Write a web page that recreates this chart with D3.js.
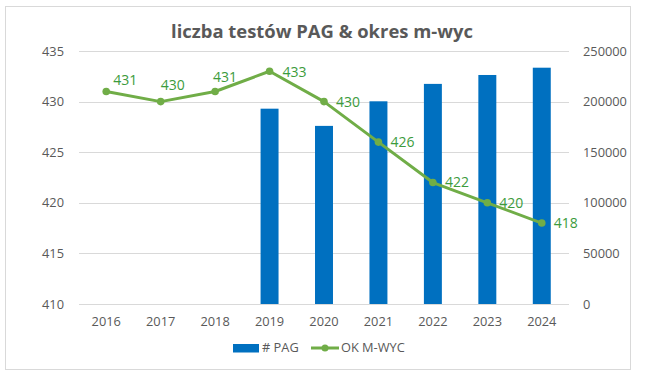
<!DOCTYPE html>
<html>
<head>
<meta charset="utf-8">
<script src="https://cdn.jsdelivr.net/npm/d3@7"></script>
<style>
  html, body { margin: 0; padding: 0; background: #fff; }
  svg { display: block; }
  text { font-family: "Open Sans", "DejaVu Sans", sans-serif; }
</style>
</head>
<body>
<svg id="chart" width="649" height="384"></svg>
<script>
// ---- data ----
const years = ["2016", "2017", "2018", "2019", "2020", "2021", "2022", "2023", "2024"];
const pagYears = ["2019", "2020", "2021", "2022", "2023", "2024"];
const pagValues = [193000, 176000, 200300, 217500, 226300, 233500];
const okValues = [431, 430, 431, 433, 430, 426, 422, 420, 418];
const leftTicks = [410, 415, 420, 425, 430, 435];
const rightTicks = [0, 50000, 100000, 150000, 200000, 250000];
const title = "liczba testów PAG & okres m-wyc";
const seriesNames = ["# PAG", "OK M-WYC"];

// ---- layout / style ----
const W = 649, H = 384;
const plot = { left: 79, right: 569, top: 51, bottom: 304 };
const textGray = "#595959";
const gridColor = "#d9d9d9";
const barColor = "#0070C0";
const lineColor = "#70AD47";
const labelColor = "#3C9B3C";
const axisFont = "12.8px";
const labelFont = "14px";
// label offsets relative to each point (dx to label start, dy to label center)
const labelOffsets = [[7, -11], [0, -17], [-2, -14], [13, 1], [12, 0], [12, 0], [12, 0], [12, 0], [12, 0]];

const svg = d3.select("#chart");

// chart border
svg.append("rect")
  .attr("x", 5.5).attr("y", 6.5).attr("width", 625).attr("height", 363)
  .attr("fill", "#fff").attr("stroke", gridColor).attr("stroke-width", 1);

const x = d3.scaleBand().domain(years).range([plot.left, plot.right]).paddingInner(0).paddingOuter(0);
const yL = d3.scaleLinear().domain([410, 435]).range([plot.bottom, plot.top]);
const yR = d3.scaleLinear().domain([0, 250000]).range([plot.bottom, plot.top]);

// gridlines
svg.append("g").selectAll("line").data(leftTicks).join("line")
  .attr("x1", plot.left).attr("x2", plot.right)
  .attr("y1", d => Math.round(yL(d)) + 0.5).attr("y2", d => Math.round(yL(d)) + 0.5)
  .attr("stroke", gridColor).attr("stroke-width", 1);

// left axis
const leftAxis = svg.append("g").attr("transform", `translate(${plot.left - 15},0)`)
  .call(d3.axisLeft(yL).tickValues(leftTicks).tickSize(0).tickPadding(0));
leftAxis.select(".domain").remove();
leftAxis.selectAll("text").attr("fill", textGray).style("font-size", axisFont).style("font-family", "'Open Sans', sans-serif");

// right axis
const rightAxis = svg.append("g").attr("transform", `translate(${plot.right + 14},0)`)
  .call(d3.axisRight(yR).tickValues(rightTicks).tickSize(0).tickPadding(0).tickFormat(d3.format("d")));
rightAxis.select(".domain").remove();
rightAxis.selectAll("text").attr("fill", textGray).style("font-size", axisFont).style("font-family", "'Open Sans', sans-serif");

// x axis
const xAxis = svg.append("g").attr("transform", `translate(0,${plot.bottom + 13})`)
  .call(d3.axisBottom(x).tickSize(0).tickPadding(0));
xAxis.select(".domain").remove();
xAxis.selectAll("text").attr("fill", textGray).style("font-size", axisFont).style("font-family", "'Open Sans', sans-serif");

// bars
const barW = x.bandwidth() * 0.33;
svg.append("g").selectAll("rect").data(pagYears.map((y, i) => ({ year: y, v: pagValues[i] }))).join("rect")
  .attr("x", d => x(d.year) + x.bandwidth() / 2 - barW / 2)
  .attr("width", barW)
  .attr("y", d => yR(d.v))
  .attr("height", d => yR(0) - yR(d.v))
  .attr("fill", barColor);

// line
const pts = years.map((y, i) => ({ year: y, v: okValues[i], i }));
const line = d3.line().x(d => x(d.year) + x.bandwidth() / 2).y(d => yL(d.v));
svg.append("path").datum(pts).attr("d", line)
  .attr("fill", "none").attr("stroke", lineColor).attr("stroke-width", 3).attr("stroke-linejoin", "round").attr("stroke-linecap", "round");
svg.append("g").selectAll("circle").data(pts).join("circle")
  .attr("cx", d => x(d.year) + x.bandwidth() / 2).attr("cy", d => yL(d.v)).attr("r", 3.8)
  .attr("fill", lineColor);

// data labels
svg.append("g").selectAll("text").data(pts).join("text")
  .attr("x", d => x(d.year) + x.bandwidth() / 2 + labelOffsets[d.i][0])
  .attr("y", d => yL(d.v) + labelOffsets[d.i][1])
  .attr("dy", "0.35em")
  .attr("fill", labelColor).style("font-size", labelFont)
  .text(d => d.v);

// title
const t = svg.append("text").attr("x", 322).attr("y", 38).attr("text-anchor", "middle")
  .attr("fill", textGray).style("font-size", "18px").style("font-weight", "bold").text(title);
const tw = t.node().getComputedTextLength();
t.style("font-size", (18 * 302 / tw).toFixed(2) + "px");

// legend
const lg = svg.append("g");
lg.append("rect").attr("x", 233).attr("y", 344).attr("width", 26).attr("height", 8.5).attr("fill", barColor);
lg.append("text").attr("x", 262).attr("y", 348).attr("dy", "0.35em").attr("fill", textGray).style("font-size", axisFont).text(seriesNames[0]);
lg.append("line").attr("x1", 311).attr("x2", 339).attr("y1", 348).attr("y2", 348).attr("stroke", lineColor).attr("stroke-width", 3);
lg.append("circle").attr("cx", 325).attr("cy", 348).attr("r", 3.5).attr("fill", lineColor);
lg.append("text").attr("x", 341).attr("y", 348).attr("dy", "0.35em").attr("fill", textGray).style("font-size", axisFont).text(seriesNames[1]);
</script>
</body>
</html>
